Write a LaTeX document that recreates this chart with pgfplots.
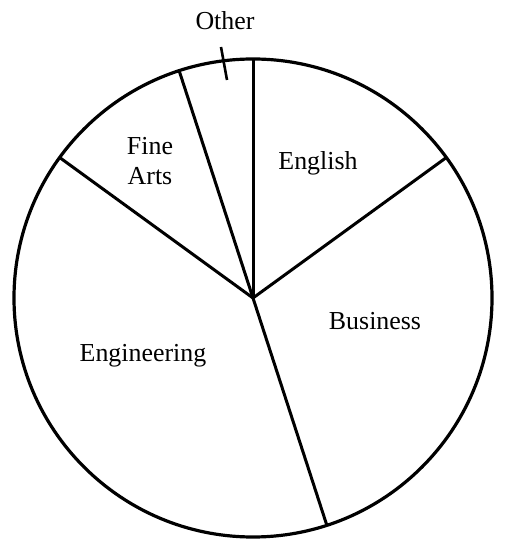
\documentclass[border=0pt]{standalone}
\usepackage{pgfplots}
\pgfplotsset{compat=1.18}
\usepackage{fontspec}
\setmainfont{Liberation Serif}
\begin{document}
\begin{tikzpicture}
\begin{axis}[
  scale only axis, width=517bp, height=546bp,
  xmin=-253, xmax=264, ymin=-248, ymax=298,
  hide axis, clip=false,
  nodes={font=\fontsize{26}{30}\selectfont},
]
\path (axis cs:-253,-248) rectangle (axis cs:264,298);
% pie shares (percent): English 15, Business 30, Engineering 40, Fine Arts 10, Other 5
% sector boundaries as polar coordinates (angle in degrees, radius)
\addplot[data cs=polar, black, line width=3bp, no markers] coordinates {(0,0) (90,239)};   % Other | English
\addplot[data cs=polar, black, line width=3bp, no markers] coordinates {(0,0) (36,239)};   % English | Business
\addplot[data cs=polar, black, line width=3bp, no markers] coordinates {(0,0) (-72,239)};  % Business | Engineering
\addplot[data cs=polar, black, line width=3bp, no markers] coordinates {(0,0) (144,239)};  % Engineering | Fine Arts
\addplot[data cs=polar, black, line width=3bp, no markers] coordinates {(0,0) (108,239)};  % Fine Arts | Other
\draw[black, line width=3.2bp] (axis cs:0,0) circle[radius=239];
% leader line for Other
\addplot[black, line width=2.6bp, no markers] coordinates {(-32,251) (-26,218)};
\node[anchor=base] at (axis cs:65,128) {English};
\node[anchor=base] at (axis cs:122,-32) {Business};
\node[anchor=base] at (axis cs:-110,-64) {Engineering};
\node[anchor=base] at (axis cs:-103,143) {Fine};
\node[anchor=base] at (axis cs:-103,113) {Arts};
\node[anchor=base] at (axis cs:-28,268) {Other};
\end{axis}
\end{tikzpicture}
\end{document}
